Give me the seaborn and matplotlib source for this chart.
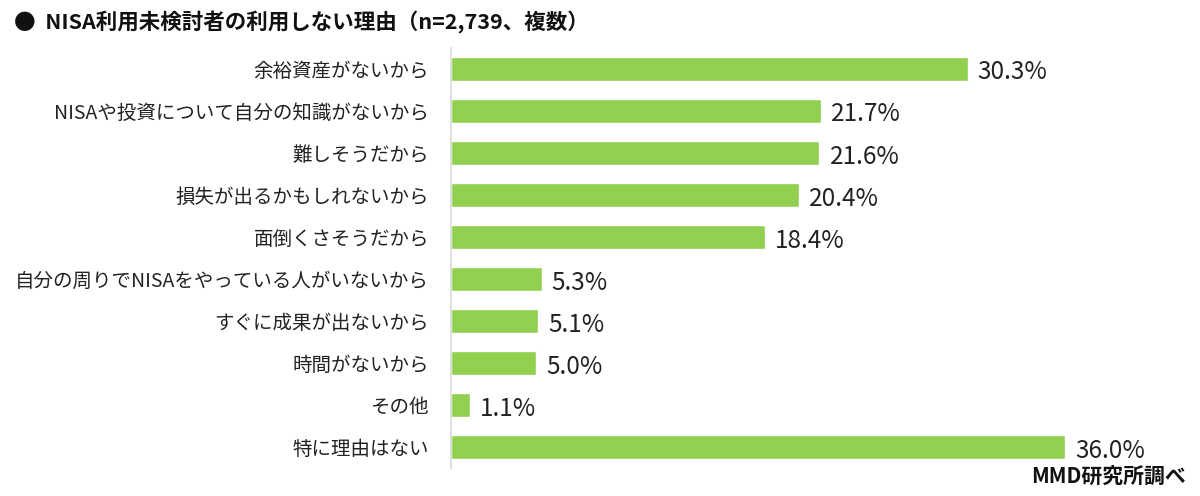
import matplotlib
matplotlib.use('Agg')
import matplotlib.pyplot as plt
import seaborn as sns
import pandas as pd

# data
reasons = [
    '余裕資産がないから',
    'NISAや投資について自分の知識がないから',
    '難しそうだから',
    '損失が出るかもしれないから',
    '面倒くさそうだから',
    '自分の周りでNISAをやっている人がいないから',
    'すぐに成果が出ないから',
    '時間がないから',
    'その他',
    '特に理由はない',
]
shares = [30.3, 21.7, 21.6, 20.4, 18.4, 5.3, 5.1, 5.0, 1.1, 36.0]

title = '●  NISA利用未検討者の利用しない理由（n=2,739、複数）'
source = 'MMD研究所調べ'

sns.set_style('white')
plt.rcParams['font.family'] = ['Noto Sans CJK JP', 'DejaVu Sans']

df = pd.DataFrame({'reason': reasons, 'share': shares})

fig = plt.figure(figsize=(12, 4.96), dpi=100)
ax = fig.add_axes([0.376, 0.056, 0.568, 0.847])

sns.barplot(data=df, x='share', y='reason', orient='h', color='#92D050',
            saturation=1, width=0.57, ax=ax)

ax.set_xlim(0, 40)
ax.set_ylim(len(reasons) - 0.5, -0.5)
ax.set_xlabel('')
ax.set_ylabel('')
ax.set_xticks([])
ax.tick_params(axis='y', length=0, pad=16, labelsize=14, labelcolor='#222222')

for s in ['top', 'right', 'bottom']:
    ax.spines[s].set_visible(False)
ax.spines['left'].set_color('#d9d9d9')
ax.spines['left'].set_linewidth(1.2)

for i, v in enumerate(shares):
    ax.text(v + 0.6, i + 0.08, f'{v:.1f}%', va='center', ha='left',
            fontsize=17.5, color='#222222')

fig.text(0.012, 0.955, title, fontsize=15.5, fontweight='bold', va='center',
         ha='left', color='#111111')
fig.text(0.988, 0.04, source, fontsize=15, fontweight='bold', va='center',
         ha='right', color='#111111')

fig.savefig('out.png', dpi=100)
